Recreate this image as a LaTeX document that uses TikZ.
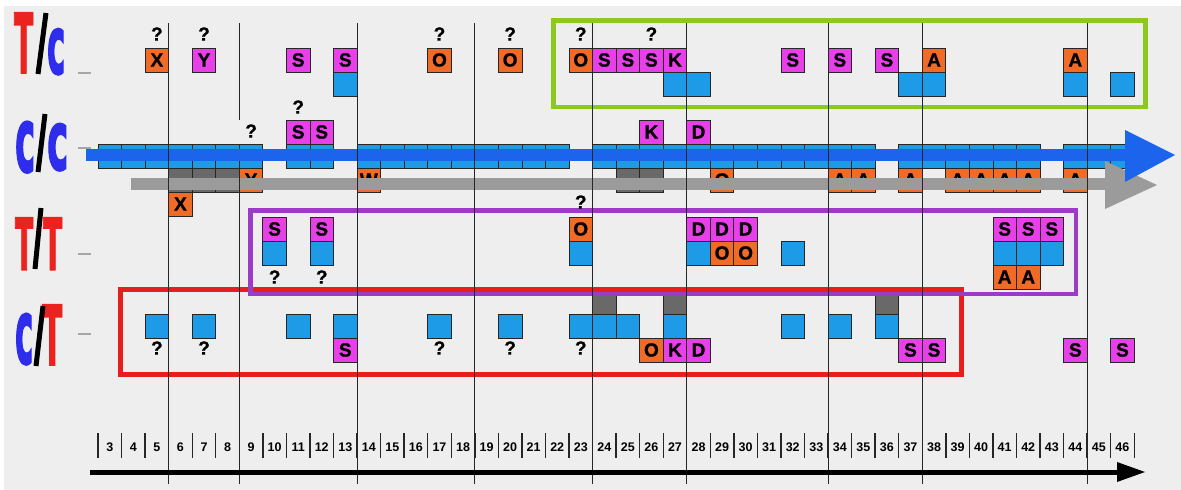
\documentclass[tikz,border=0pt]{standalone}
\usepackage{fontspec}
\setmainfont{Liberation Sans}
\newfontfamily\cellfont{Liberation Sans}[BoldFeatures={FakeBold=1}]
\newfontfamily\lblfont{DejaVu Sans}[BoldFeatures={FakeBold=2.5}]
\definecolor{bgc}{RGB}{238,238,238}
\definecolor{cblue}{RGB}{30,155,230}
\definecolor{aBlue}{RGB}{28,100,235}
\definecolor{cOrange}{RGB}{240,106,40}
\definecolor{cMag}{RGB}{232,64,232}
\definecolor{cGray}{RGB}{105,105,105}
\definecolor{aGray}{RGB}{155,155,155}
\definecolor{rGreen}{RGB}{140,200,30}
\definecolor{rPurple}{RGB}{155,60,200}
\definecolor{rRed}{RGB}{230,30,30}
\definecolor{lRed}{RGB}{235,35,30}
\definecolor{lBlue}{RGB}{45,45,235}
\newcommand\cellat[4]{\node[cellbox,#3] (cell-#1-#2) at ({109.775+23.55*#1},{#2+12}) {#4};}
\newcommand\qat[2]{\node[qmark] (q-#1-#2) at ({109.775+23.55*#1},#2) {?};}
\newcommand\glyphat[7]{\node[inner sep=0pt,anchor=south west,text=#6] (#1) at (#2,#3) {\resizebox{#4pt}{#5pt}{\lblfont\bfseries #7}};}
\begin{document}
\begin{tikzpicture}[x=1pt,y=-1pt,
  cellbox/.style={draw=black!85,line width=0.8pt,minimum width=23.55pt,minimum height=24pt,inner sep=0pt,font=\cellfont\bfseries\fontsize{19}{19}\selectfont},
  cbl/.style={fill=cblue}, cor/.style={fill=cOrange}, cmg/.style={fill=cMag}, cgy/.style={fill=cGray},
  qmark/.style={inner sep=0pt,font=\cellfont\bfseries\fontsize{19}{19}\selectfont},
  axnum/.style={inner sep=0pt,font=\bfseries\fontsize{12.5}{12.5}\selectfont},
  vline/.style={draw=black!85,line width=0.9pt},
  tickline/.style={draw=black!85,line width=1.4pt},
  slashline/.style={draw=black,line width=5pt},
  dashmark/.style={draw=black!35,line width=2pt},
  frame/.style={line width=4.5pt}]
\useasboundingbox (0,0) rectangle (1181,490);
\fill[white] (0,0) rectangle (1181,490);
\fill[bgc] (4,6) rectangle (1181,490);

% ---- T/c row
\foreach \k/\lt in {2/X,14/O,17/O,20/O,35/A,41/A} {\cellat{\k}{48}{cor}{\lt}}
\foreach \k/\lt in {4/Y,8/S,10/S,21/S,22/S,23/S,24/K,29/S,31/S,33/S} {\cellat{\k}{48}{cmg}{\lt}}
\foreach \k in {10,24,25,34,35,41,43} {\cellat{\k}{72}{cbl}{}}
% ---- C/C row
\foreach \k/\lt in {8/S,9/S,23/K,25/D} {\cellat{\k}{120}{cmg}{\lt}}
\foreach \k in {0,...,6} {\cellat{\k}{144}{cbl}{}}
\foreach \k in {8,9} {\cellat{\k}{144}{cbl}{}}
\foreach \k in {11,...,19} {\cellat{\k}{144}{cbl}{}}
\foreach \k in {21,...,32} {\cellat{\k}{144}{cbl}{}}
\foreach \k in {34,...,39} {\cellat{\k}{144}{cbl}{}}
\foreach \k in {41,42,43} {\cellat{\k}{144}{cbl}{}}
\foreach \k in {3,4,5,22,23} {\cellat{\k}{168}{cgy}{}}
\foreach \k/\lt in {6/Y,11/W,26/O,31/A,32/A,34/A,36/A,37/A,38/A,39/A,41/A} {\cellat{\k}{168}{cor}{\lt}}
\cellat{3}{192}{cor}{X}
% ---- T/T row
\foreach \k/\lt in {7/S,9/S,25/D,26/D,27/D,38/S,39/S,40/S} {\cellat{\k}{217}{cmg}{\lt}}
\cellat{20}{217}{cor}{O}
\foreach \k in {7,9,20,25,29,38,39,40} {\cellat{\k}{241}{cbl}{}}
\foreach \k in {26,27} {\cellat{\k}{241}{cor}{O}}
\foreach \k in {38,39} {\cellat{\k}{265}{cor}{A}}
% ---- c/T row
\foreach \k in {21,24,33} {\cellat{\k}{290}{cgy}{}}
\foreach \k in {2,4,8,10,14,17,20,21,22,24,29,31,33} {\cellat{\k}{314}{cbl}{}}
\foreach \k/\lt in {10/S,24/K,25/D,34/S,35/S,41/S,43/S} {\cellat{\k}{338}{cmg}{\lt}}
\cellat{23}{338}{cor}{O}

% ---- arrows across the C/C row
\fill[aGray] (131,178) rectangle (1106,190);
\fill[aGray] (1105,161) -- (1157,185) -- (1105,209) -- cycle;
\fill[aBlue] (86,149) rectangle (1126,161);
\fill[aBlue] (1125,130) -- (1175,155) -- (1125,182) -- cycle;

% ---- frames
\draw[frame,rRed] (120.5,289.5) rectangle (961.5,374.5);
\draw[frame,rPurple] (250.5,210.5) rectangle (1076,294);
\draw[frame,rGreen] (553.5,20.5) rectangle (1145.5,107);

% ---- vertical grid lines
\foreach \k in {3,11,16,21,25,31,35,42} {\draw[vline] ({98+23.55*\k},23) -- ({98+23.55*\k},484);}
\draw[vline] ({98+23.55*6},23) -- ({98+23.55*6},120);
\draw[vline] ({98+23.55*6},168) -- ({98+23.55*6},484);

% ---- question marks
\foreach \k in {2,4,14,17,20,23} {\qat{\k}{34}}
\qat{8}{107}
\qat{6}{131}
\qat{20}{202}
\foreach \k in {7,9} {\qat{\k}{277}}
\foreach \k in {2,4,14,17,20} {\qat{\k}{348}}

% ---- row labels
\glyphat{lTc1}{14}{73}{19}{60}{lRed}{T}
\glyphat{lTc2}{47}{75}{18}{45}{lBlue}{c}
\draw[slashline] (38,74) -- (46,13);
\glyphat{lCC1}{15}{173}{20}{50}{lBlue}{c}
\glyphat{lCC2}{47}{171}{21}{46}{lBlue}{c}
\draw[slashline] (38,172) -- (45,114);
\glyphat{lTT1}{15}{270}{18}{52}{lRed}{T}
\glyphat{lTT2}{43}{270}{19}{52}{lRed}{T}
\draw[slashline] (35,269) -- (41,208);
\glyphat{lCT1}{15}{365}{18}{50}{lBlue}{c}
\glyphat{lCT2}{42}{365}{20}{60}{lRed}{T}
\draw[slashline] (36,366) -- (43,306);
\foreach \yy in {73,148,254,334} {\draw[dashmark] (78,\yy) -- (91,\yy);}

% ---- axis
\foreach \k in {0,...,44} {\draw[tickline] ({98+23.55*\k},433) -- ({98+23.55*\k},458);}
\foreach \n in {3,...,46} {\node[axnum] (ax-\n) at ({109.775+23.55*(\n-3)},447) {\n};}
\coordinate (axS) at (90,472);
\coordinate (axE) at (1120,472);
\draw[line width=5pt] (axS) -- (axE);
\fill[black] (1117,462) -- (1145,472) -- (1117,482) -- cycle;
\end{tikzpicture}
\end{document}
